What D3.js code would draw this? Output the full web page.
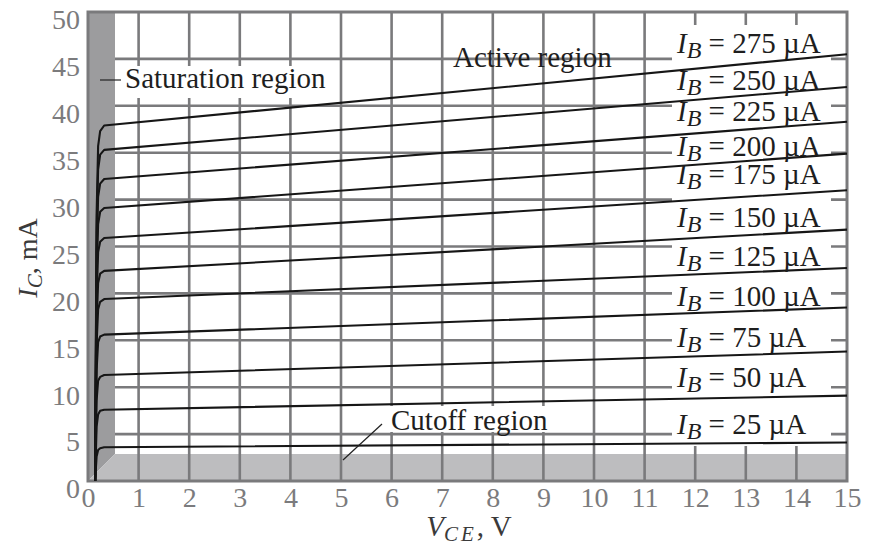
<!DOCTYPE html>
<html>
<head>
<meta charset="utf-8">
<script src="https://cdn.jsdelivr.net/npm/d3@7"></script>
<style>
  body { margin: 0; background: #fff; }
  text { font-family: "Liberation Serif", "DejaVu Serif", serif; }
</style>
</head>
<body>
<svg id="chart" width="875" height="550"></svg>
<script>
// V_CE sample points shared by every curve (V)
const vce = [0.14, 0.17, 0.2, 0.24, 0.32, 15];

// I_C values (mA) for each base current
const ib25  = [0, 2.6, 3.3, 3.5, 3.6, 4.1];
const ib50  = [0, 5.8, 7.1, 7.5, 7.6, 9.1];
const ib75  = [0, 8.6, 10.7, 11.1, 11.3, 13.8];
const ib100 = [0, 11.8, 14.8, 15.4, 15.6, 18.5];
const ib125 = [0, 14.6, 18.3, 19.1, 19.4, 22.7];
const ib150 = [0, 16.8, 21.1, 22.1, 22.4, 26.8];
const ib175 = [0, 19.4, 24.4, 25.5, 25.9, 31.0];
const ib200 = [0, 21.8, 27.4, 28.7, 29.1, 34.9];
const ib225 = [0, 24.1, 30.3, 31.7, 32.2, 38.3];
const ib250 = [0, 26.5, 33.2, 34.8, 35.3, 42.0];
const ib275 = [0, 28.4, 35.7, 37.3, 37.9, 45.5];

const ibValues = [25, 50, 75, 100, 125, 150, 175, 200, 225, 250, 275];
const icSeries = [ib25, ib50, ib75, ib100, ib125, ib150, ib175, ib200, ib225, ib250, ib275];

// label baselines in mA (where each "I_B = ..." text sits)
const labelIc = [5.0, 10.0, 14.3, 18.7, 22.9, 27.1, 31.7, 34.7, 38.4, 41.7, 45.6];

const xTicks = [0, 1, 2, 3, 4, 5, 6, 7, 8, 9, 10, 11, 12, 13, 14, 15];
const yTicks = [0, 5, 10, 15, 20, 25, 30, 35, 40, 45, 50];

const svg = d3.select("#chart");
const x = d3.scaleLinear().domain([0, 15]).range([88, 847]);
const y = d3.scaleLinear().domain([0, 50]).range([481, 12]);

const gridCol = "#7a7a7c";
const satW = 27;   // width of the saturation band, px
const cutH = 27;   // height of the cutoff band, px

// saturation (left) and cutoff (bottom) bands
svg.append("polygon")
    .attr("points", [[x(0), y(50)], [x(0) + satW, y(50)], [x(0) + satW, y(0) - cutH], [x(0), y(0)]].join(" "))
    .attr("fill", "#9c9c9e");
svg.append("polygon")
    .attr("points", [[x(0), y(0)], [x(0) + satW, y(0) - cutH], [x(15), y(0) - cutH], [x(15), y(0)]].join(" "))
    .attr("fill", "#bdbdbf");

// grid
svg.append("g").selectAll("line").data(xTicks.slice(1, -1)).enter().append("line")
    .attr("x1", d => x(d)).attr("x2", d => x(d))
    .attr("y1", y(50)).attr("y2", y(0))
    .attr("stroke", gridCol).attr("stroke-width", 2.6);
svg.append("g").selectAll("line").data(yTicks.slice(1, -1)).enter().append("line")
    .attr("x1", x(0) + satW).attr("x2", x(15))
    .attr("y1", d => y(d)).attr("y2", d => y(d))
    .attr("stroke", gridCol).attr("stroke-width", 2.6);

// white patches behind the labels
function patch(x0, y0, x1, y1) {
    svg.append("rect").attr("x", x0).attr("y", y0)
        .attr("width", x1 - x0).attr("height", y1 - y0).attr("fill", "#fff");
}
patch(672, 25, 831, 446);
patch(122, 66, 336, 98);
patch(386, 406, 552, 432);

// frame
svg.append("rect")
    .attr("x", x(0)).attr("y", y(50))
    .attr("width", x(15) - x(0)).attr("height", y(0) - y(50))
    .attr("fill", "none").attr("stroke", gridCol).attr("stroke-width", 3);

// axes (labels only)
const xAxis = svg.append("g").attr("transform", "translate(0," + y(0) + ")")
    .call(d3.axisBottom(x).tickValues(xTicks).tickSize(0).tickPadding(6).tickFormat(d3.format("d")));
const yAxis = svg.append("g").attr("transform", "translate(" + x(0) + ",0)")
    .call(d3.axisLeft(y).tickValues(yTicks).tickSize(0).tickPadding(8).tickFormat(d3.format("d")));
[xAxis, yAxis].forEach(a => {
    a.select(".domain").remove();
    a.selectAll("text").attr("font-family", "Liberation Serif").attr("font-size", 28).attr("fill", "#7b7b7d");
});
yAxis.selectAll("text").attr("dy", "0.6em");

// characteristic curves
const line = d3.line()
    .x(d => x(d[0]))
    .y(d => y(d[1]));

svg.append("g").selectAll("path").data(icSeries).enter().append("path")
    .attr("d", s => line(vce.map((v, i) => [v, s[i]])))
    .attr("fill", "none").attr("stroke", "#161616").attr("stroke-width", 2.1)
    .attr("stroke-linejoin", "round");

// I_B labels
const lab = svg.append("g").selectAll("text").data(ibValues).enter().append("text")
    .attr("x", 677).attr("y", (d, i) => y(labelIc[i]))
    .attr("font-size", 29).attr("fill", "#1e1e1e");
lab.append("tspan").attr("font-style", "italic").text("I");
lab.append("tspan").attr("font-style", "italic").attr("font-size", 24).attr("dy", 5).text("B");
lab.append("tspan").attr("dy", -5).text(d => " = " + d + " µA");

// region annotations
svg.append("line").attr("x1", 100).attr("x2", 121).attr("y1", 80).attr("y2", 80)
    .attr("stroke", "#222").attr("stroke-width", 1.2);
svg.append("text").attr("x", 125).attr("y", 88).attr("font-size", 29).attr("fill", "#1e1e1e")
    .text("Saturation region");
svg.append("text").attr("x", 453).attr("y", 67).attr("font-size", 29).attr("fill", "#1e1e1e")
    .text("Active region");
svg.append("line").attr("x1", 343).attr("x2", 382).attr("y1", 460).attr("y2", 424)
    .attr("stroke", "#222").attr("stroke-width", 1.2);
svg.append("text").attr("x", 391).attr("y", 430).attr("font-size", 29).attr("fill", "#1e1e1e")
    .text("Cutoff region");

// axis titles
const xt = svg.append("text").attr("x", 469).attr("y", 536).attr("text-anchor", "middle")
    .attr("font-size", 29).attr("fill", "#3a3a3a");
xt.append("tspan").attr("font-style", "italic").text("V");
xt.append("tspan").attr("font-style", "italic").attr("font-size", 21).attr("dy", 5).attr("letter-spacing", 3).text("CE");
xt.append("tspan").attr("dy", -5).text(", V");

const yt = svg.append("text").attr("transform", "translate(37,258) rotate(-90)").attr("text-anchor", "middle")
    .attr("font-size", 28).attr("fill", "#3a3a3a");
yt.append("tspan").attr("font-style", "italic").text("I");
yt.append("tspan").attr("font-style", "italic").attr("font-size", 21).attr("dy", 5).text("C");
yt.append("tspan").attr("dy", -5).text(", mA");
</script>
</body>
</html>
